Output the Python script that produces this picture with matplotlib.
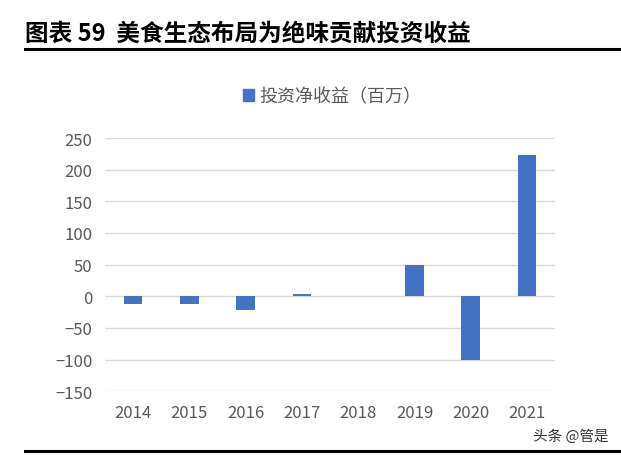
import matplotlib.pyplot as plt
from matplotlib.lines import Line2D
from matplotlib.patches import Patch

plt.rcParams['font.family'] = ['Noto Sans CJK SC', 'DejaVu Sans']
plt.rcParams['axes.unicode_minus'] = True

years = ["2014", "2015", "2016", "2017", "2018", "2019", "2020", "2021"]
income = [-12, -12, -22, 3, 0, 49, -100, 223]
yticks = [-150, -100, -50, 0, 50, 100, 150, 200, 250]

BLUE = "#4472C4"
GREY = "#595959"

fig = plt.figure(figsize=(6.21, 4.56), dpi=100)
ax = fig.add_axes([0.169, 0.140, 0.725, 0.555])

ax.bar(range(len(years)), income, width=0.33, color=BLUE, zorder=3)
ax.set_xlim(-0.5, len(years) - 0.5)
ax.set_ylim(-150, 250)
ax.set_yticks(yticks)
ax.set_yticklabels([str(v).replace("-", "\u2212") for v in yticks])
ax.set_xticks(range(len(years)))
ax.set_xticklabels(years)
ax.grid(axis='y', color='#d9d9d9', lw=1, zorder=0)
for s in ax.spines.values():
    s.set_visible(False)
ax.tick_params(length=0, labelsize=12, colors=GREY)
ax.tick_params(axis='x', pad=9)
ax.tick_params(axis='y', pad=9)

ax.legend(handles=[Patch(color=BLUE, label="投资净收益（百万）")],
          loc='center', bbox_to_anchor=(0.505, 1.165), frameon=False,
          fontsize=13, handlelength=0.6, handleheight=0.6, handletextpad=0.3,
          labelcolor=GREY)

fig.text(0.04, 0.926, "图表 59  美食生态布局为绝味贡献投资收益", fontsize=17,
         fontweight='bold', va='center', ha='left', color='black')
fig.add_artist(Line2D([0.04, 1.0], [0.89, 0.89], color='black', lw=2.2))
fig.add_artist(Line2D([0.04, 1.0], [0.009, 0.009], color='black', lw=2.2))
fig.text(0.98, 0.042, "头条 @管是", fontsize=10.5, ha='right', va='center',
         color='#333333')

fig.savefig("out.png", dpi=100)
